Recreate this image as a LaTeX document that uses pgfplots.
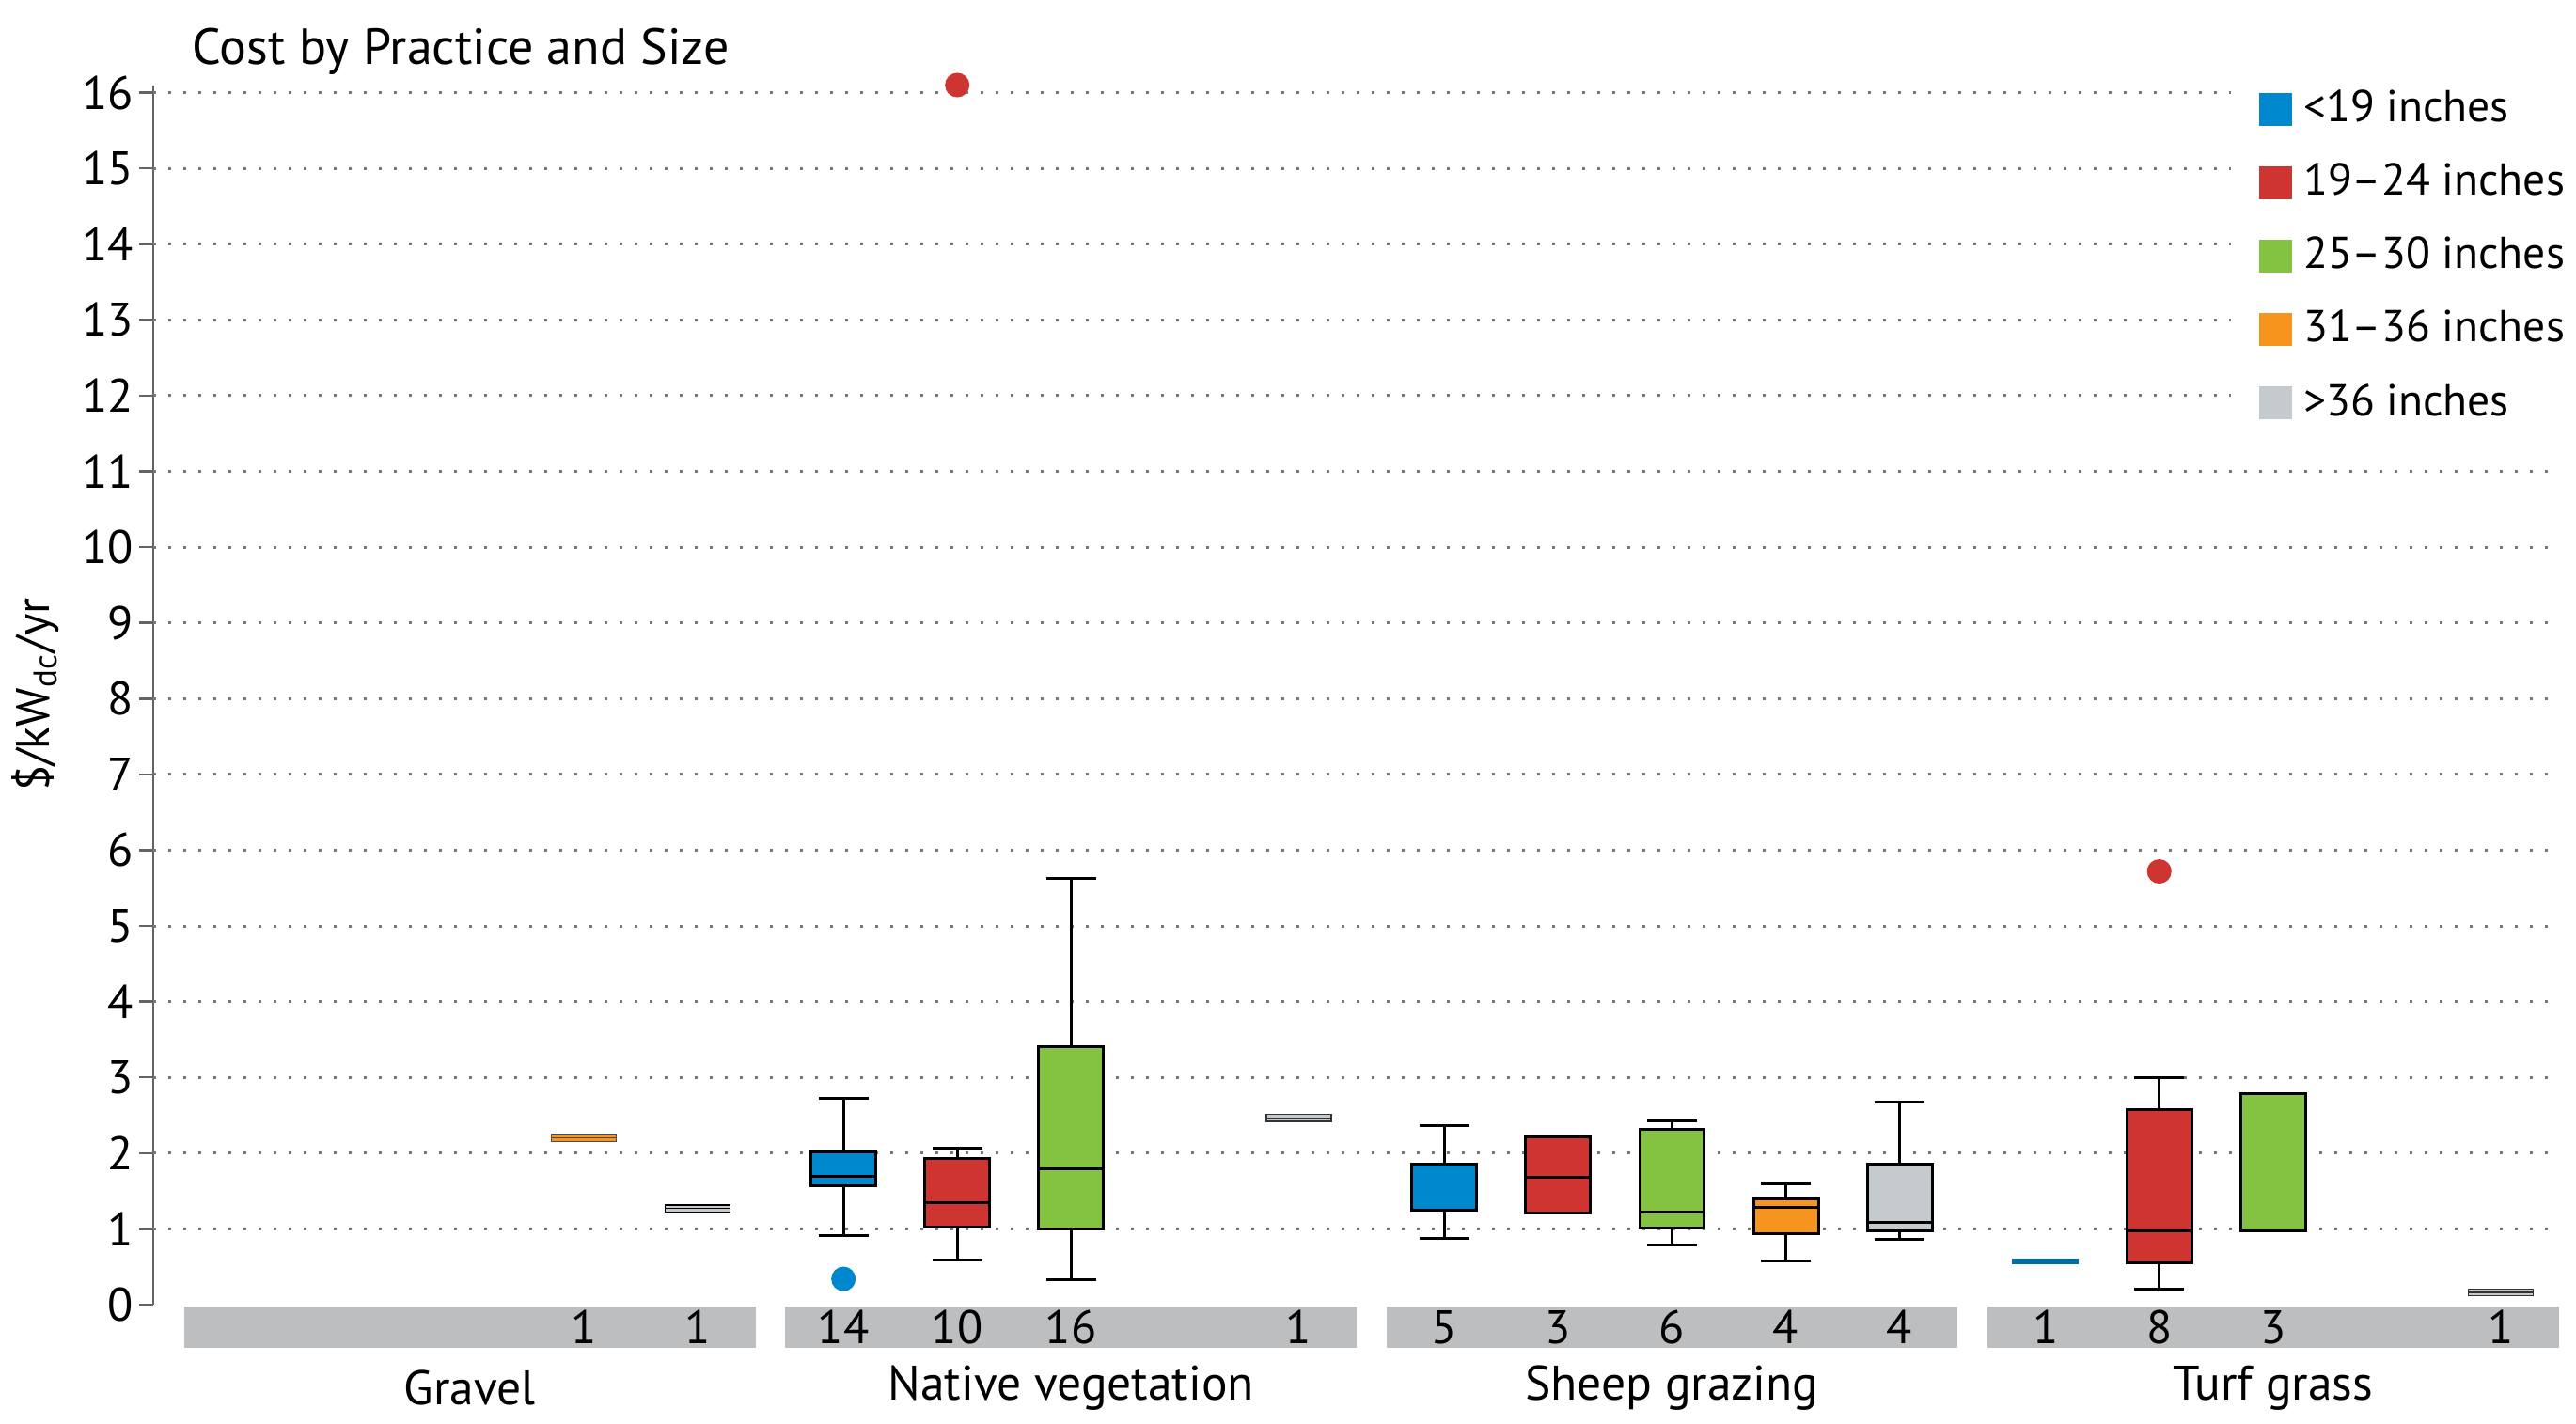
\documentclass[border=0pt]{standalone}
\usepackage{fontspec}
\setmainfont{PT Sans}
\usepackage{pgfplots}
\pgfplotsset{compat=1.18}
\usepgfplotslibrary{statistics}

\definecolor{cBlue}{RGB}{0,136,206}
\definecolor{cRed}{RGB}{207,53,48}
\definecolor{cGreen}{RGB}{132,195,65}
\definecolor{cOrange}{RGB}{247,148,29}
\definecolor{cGray}{RGB}{196,202,205}
\definecolor{stripgray}{RGB}{188,190,192}
\definecolor{axgray}{RGB}{100,100,102}
\definecolor{gridgray}{RGB}{120,120,122}

\begin{document}
\fontsize{10}{12}\selectfont
\begin{tikzpicture}
\begin{axis}[
  scale only axis, width=511.8pt, height=259.5pt,
  xmin=-0.784, xmax=20.36, ymin=0, ymax=16.1,
  clip=false,
  axis x line=none, axis y line*=left,
  axis line style={draw=axgray, line width=0.5pt},
  ytick={0,...,16},
  extra y ticks={1,...,16}, extra y tick labels={},
  extra y tick style={grid=major, major tick length=0pt},
  grid style={gridgray, line width=0.6pt, dash pattern=on 0.6pt off 2.6pt},
  tick align=outside, major tick length=3pt,
  tick style={axgray, line width=0.5pt},
  yticklabel style={font=\fontsize{10}{12}\selectfont, inner sep=1pt},
  /pgf/number format/assume math mode=true,
  ylabel={\$/kW\textsubscript{dc}/yr},
  ylabel style={at={(axis description cs:-0.0488,0.5)}, anchor=center, font=\fontsize{10}{12}\selectfont},
  boxplot/draw direction=y,
  boxplot/box extend=0.57, boxplot/whisker extend=0.44,
  every axis plot/.append style={line width=0.6pt},
  legend style={draw=none, fill=white, at={(axis description cs:0.8633,1.012)}, anchor=north west,
    font=\fontsize{9.5}{11.4}\selectfont, row sep=3.35pt, inner xsep=6pt, inner ysep=2pt,
    /tikz/every odd column/.append style={column sep=0.4pt}},
  legend cell align=left,
  legend image code/.code={\fill[#1, draw=none] (0pt,-3.5pt) rectangle (7pt,3.5pt);},
]
% category strips
\addplot[fill=stripgray, draw=none, forget plot] coordinates {(-0.51,-0.02) (4.51,-0.02) (4.51,-0.57) (-0.51,-0.57)};
\addplot[fill=stripgray, draw=none, forget plot] coordinates {(4.772,-0.02) (9.792,-0.02) (9.792,-0.57) (4.772,-0.57)};
\addplot[fill=stripgray, draw=none, forget plot] coordinates {(10.054,-0.02) (15.074,-0.02) (15.074,-0.57) (10.054,-0.57)};
\addplot[fill=stripgray, draw=none, forget plot] coordinates {(15.336,-0.02) (20.356,-0.02) (20.356,-0.57) (15.336,-0.57)};

% Gravel
\addplot[forget plot, fill=cOrange, draw=black!70, line width=0.3pt, boxplot prepared={draw position=3,
  lower whisker=2.155, lower quartile=2.155, median=2.20, upper quartile=2.245, upper whisker=2.245}] coordinates {};
\addplot[forget plot, fill=cGray, draw=black, line width=0.3pt, boxplot prepared={draw position=4,
  lower whisker=1.225, lower quartile=1.225, median=1.27, upper quartile=1.315, upper whisker=1.315}] coordinates {};

% Native vegetation
\addplot[forget plot, fill=cBlue, draw=black, mark=*, mark size=2.3pt, mark options={draw=cBlue, fill=cBlue},
  boxplot prepared={draw position=5.282,
  lower whisker=0.91, lower quartile=1.57, median=1.70, upper quartile=2.02, upper whisker=2.72}]
  table[row sep=\\, y index=0] {0.34\\};
\addplot[forget plot, fill=cRed, draw=black, mark=*, mark size=2.3pt, mark options={draw=cRed, fill=cRed},
  boxplot prepared={draw position=6.282,
  lower whisker=0.59, lower quartile=1.03, median=1.35, upper quartile=1.93, upper whisker=2.07}]
  table[row sep=\\, y index=0] {16.1\\};
\addplot[forget plot, fill=cGreen, draw=black, boxplot prepared={draw position=7.282,
  lower whisker=0.33, lower quartile=1.00, median=1.79, upper quartile=3.41, upper whisker=5.63}] coordinates {};
\addplot[forget plot, fill=cGray, draw=black!80, line width=0.3pt, boxplot prepared={draw position=9.282,
  lower whisker=2.42, lower quartile=2.42, median=2.465, upper quartile=2.51, upper whisker=2.51}] coordinates {};

% Sheep grazing
\addplot[forget plot, fill=cBlue, draw=black, boxplot prepared={draw position=10.564,
  lower whisker=0.88, lower quartile=1.25, median=1.25, upper quartile=1.86, upper whisker=2.36}] coordinates {};
\addplot[forget plot, fill=cRed, draw=black, boxplot prepared={draw position=11.564,
  lower whisker=1.21, lower quartile=1.21, median=1.68, upper quartile=2.21, upper whisker=2.21}] coordinates {};
\addplot[forget plot, fill=cGreen, draw=black, boxplot prepared={draw position=12.564,
  lower whisker=0.79, lower quartile=1.01, median=1.22, upper quartile=2.32, upper whisker=2.43}] coordinates {};
\addplot[forget plot, fill=cOrange, draw=black, boxplot prepared={draw position=13.564,
  lower whisker=0.58, lower quartile=0.94, median=1.28, upper quartile=1.40, upper whisker=1.60}] coordinates {};
\addplot[forget plot, fill=cGray, draw=black, boxplot prepared={draw position=14.564,
  lower whisker=0.86, lower quartile=0.97, median=1.08, upper quartile=1.85, upper whisker=2.67}] coordinates {};

% Turf grass
\addplot[forget plot, fill=cBlue, draw=cBlue!80!black, line width=0.3pt, boxplot prepared={draw position=15.846,
  lower whisker=0.545, lower quartile=0.545, median=0.57, upper quartile=0.595, upper whisker=0.595}] coordinates {};
\addplot[forget plot, fill=cRed, draw=black, mark=*, mark size=2.3pt, mark options={draw=cRed, fill=cRed},
  boxplot prepared={draw position=16.846,
  lower whisker=0.21, lower quartile=0.55, median=0.98, upper quartile=2.58, upper whisker=3.00}]
  table[row sep=\\, y index=0] {5.72\\};
\addplot[forget plot, fill=cGreen, draw=black, boxplot prepared={draw position=17.846,
  lower whisker=0.97, lower quartile=0.97, median=0.97, upper quartile=2.78, upper whisker=2.78}] coordinates {};
\addplot[forget plot, fill=cGray, draw=black!80, line width=0.3pt, boxplot prepared={draw position=19.846,
  lower whisker=0.115, lower quartile=0.115, median=0.16, upper quartile=0.205, upper whisker=0.205}] coordinates {};

% counts
\node at (axis cs:3,-0.30) {1};
\node at (axis cs:4,-0.30) {1};
\node at (axis cs:5.282,-0.30) {14};
\node at (axis cs:6.282,-0.30) {10};
\node at (axis cs:7.282,-0.30) {16};
\node at (axis cs:9.282,-0.30) {1};
\node at (axis cs:10.564,-0.30) {5};
\node at (axis cs:11.564,-0.30) {3};
\node at (axis cs:12.564,-0.30) {6};
\node at (axis cs:13.564,-0.30) {4};
\node at (axis cs:14.564,-0.30) {4};
\node at (axis cs:15.846,-0.30) {1};
\node at (axis cs:16.846,-0.30) {8};
\node at (axis cs:17.846,-0.30) {3};
\node at (axis cs:19.846,-0.30) {1};

% category names
\node[font=\fontsize{10.3}{12}\selectfont] at (axis cs:2,-1.10) {Gravel};
\node[font=\fontsize{10.3}{12}\selectfont] at (axis cs:7.282,-1.10) {Native vegetation};
\node[font=\fontsize{10.3}{12}\selectfont] at (axis cs:12.564,-1.10) {Sheep grazing};
\node[font=\fontsize{10.3}{12}\selectfont] at (axis cs:17.846,-1.10) {Turf grass};

% title
\node[anchor=base west, inner sep=0pt, font=\fontsize{10.8}{13}\selectfont] at (axis description cs:0.016,1.017) {Cost by Practice and Size};

% legend
\addlegendimage{fill=cBlue}\addlegendentry{<19 inches}
\addlegendimage{fill=cRed}\addlegendentry{19–24 inches}
\addlegendimage{fill=cGreen}\addlegendentry{25–30 inches}
\addlegendimage{fill=cOrange}\addlegendentry{31–36 inches}
\addlegendimage{fill=cGray}\addlegendentry{>36 inches}
\end{axis}
\pgfresetboundingbox
\path[use as bounding box] (-32.6pt,-25.2pt) rectangle (515.4pt,277.6pt);
\end{tikzpicture}
\end{document}
